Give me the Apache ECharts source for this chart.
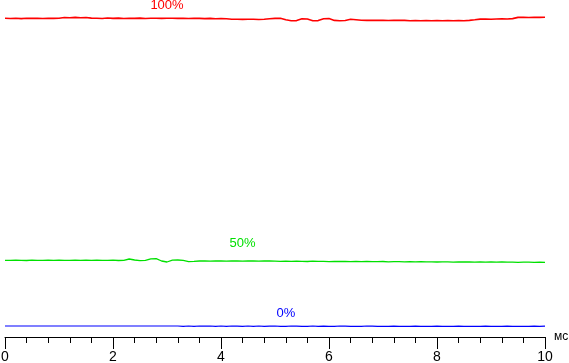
<!DOCTYPE html>
<html>
<head>
<meta charset="utf-8">
<script src="https://cdn.jsdelivr.net/npm/echarts@6/dist/echarts.min.js"></script>
<style>
html,body{margin:0;padding:0;background:#fff;}
#chart{width:569px;height:363px;}
</style>
</head>
<body>
<div id="chart"></div>
<script>
// time axis in ms, one sample every 0.1 ms
var timeMs = [];
for (var k = 0; k <= 100; k++) { timeMs.push(+(k / 10).toFixed(1)); }

var xTicks = ['0', '2', '4', '6', '8', '10'];
var seriesNames = ['100%', '50%', '0%'];
var seriesColors = ['#ff0000', '#00e000', '#0000ff'];
var labelTimes = [3.0, 4.4, 5.2];

// brightness levels (arbitrary units)
var red = [
  318.7, 318.5, 318.7, 318.4, 318.7, 318.6, 318.7, 318.5, 318.7, 318.6,
  318.8, 319.5, 319.3, 319.6, 319.2, 319.5, 318.9, 318.7, 318.5, 319.0,
  318.6, 318.9, 318.5, 318.8, 318.6, 318.9, 318.5, 318.7, 318.7, 318.6,
  318.7, 318.8, 318.6, 318.7, 318.5, 318.7, 318.6, 318.4, 318.6, 318.3,
  318.5, 318.2, 317.7, 317.8, 317.6, 317.8, 317.7, 317.5, 317.8, 318.2,
  318.6, 318.7, 317.2, 316.3, 316.4, 318.3, 318.0, 316.3, 316.4, 318.2,
  318.4, 316.6, 316.3, 316.5, 317.7, 317.2, 316.7, 316.6, 316.8, 316.6,
  316.7, 316.5, 316.7, 316.6, 316.6, 316.3, 316.4, 316.3, 316.5, 316.3,
  316.4, 316.3, 316.5, 316.3, 316.4, 316.3, 316.6, 317.2, 317.9, 318.0,
  317.8, 318.0, 318.1, 318.0, 318.4, 319.6, 319.7, 319.5, 319.8, 319.6,
  319.7
];
var green = [
  76.7, 76.6, 76.8, 76.7, 76.5, 76.8, 76.7, 76.6, 76.9, 76.7,
  76.8, 76.6, 76.7, 76.9, 76.6, 76.8, 76.7, 76.9, 76.6, 76.7,
  76.8, 76.5, 76.7, 78.0, 77.0, 76.3, 76.6, 78.2, 78.3, 76.0,
  75.0, 76.8, 77.0, 76.6, 75.4, 75.6, 76.0, 76.2, 75.9, 76.1,
  76.0, 75.8, 76.1, 76.0, 75.9, 76.2, 76.0, 75.8, 76.0, 76.1,
  75.9, 75.7, 75.9, 75.6, 75.8, 75.7, 75.5, 75.8, 75.6, 75.7,
  75.4, 75.6, 75.5, 75.7, 75.4, 75.5, 75.3, 75.6, 75.4, 75.3,
  75.5, 75.2, 75.4, 75.3, 75.1, 75.3, 75.2, 75.4, 75.1, 75.2,
  75.0, 75.2, 75.1, 74.9, 75.1, 75.0, 75.2, 74.9, 75.0, 74.8,
  75.0, 74.9, 75.1, 74.8, 74.9, 74.7, 74.9, 74.8, 74.7, 74.8,
  74.7
];
var blue = [
  11.0, 11.0, 11.0, 11.0, 11.0, 11.0, 11.0, 11.0, 11.0, 11.0,
  11.0, 11.0, 11.0, 11.0, 11.0, 11.0, 11.0, 11.0, 11.0, 11.0,
  11.0, 11.0, 11.0, 11.0, 11.0, 11.0, 11.0, 11.0, 11.0, 11.0,
  11.0, 11.0, 11.0, 10.6, 11.0, 10.7, 11.0, 10.8, 11.0, 10.6,
  11.0, 10.7, 11.0, 10.8, 10.6, 11.0, 10.7, 11.0, 10.6, 10.8,
  11.0, 10.7, 10.6, 11.0, 10.8, 10.6, 10.7, 11.0, 10.6, 10.8,
  10.7, 10.6, 11.0, 10.8, 10.6, 10.7, 10.6, 11.0, 10.8, 10.6,
  10.7, 10.6, 10.8, 10.7, 10.6, 10.7, 10.8, 10.6, 10.7, 10.6,
  10.8, 10.6, 10.7, 10.6, 10.8, 10.7, 10.6, 10.7, 10.6, 10.8,
  10.6, 10.7, 10.6, 10.8, 10.7, 10.6, 10.7, 10.6, 10.8, 10.7,
  10.8
];

var levels = [red, green, blue];
var widths = [1.6, 1.3, 1.2];
var labelOffsets = [[0, -13], [0, -18], [0, -13]];

function pairs(vals) {
  return timeMs.map(function (t, i) { return [t, vals[i]]; });
}

var series = levels.map(function (vals, s) {
  var idx = Math.round(labelTimes[s] * 10);
  return {
    type: 'line',
    name: seriesNames[s],
    data: pairs(vals),
    symbol: 'none',
    lineStyle: { color: seriesColors[s], width: widths[s] },
    itemStyle: { color: seriesColors[s] },
    silent: true,
    markPoint: {
      symbol: 'circle',
      symbolSize: 0,
      silent: true,
      data: [{ coord: [timeMs[idx], vals[idx]] }],
      label: {
        show: true,
        position: 'inside',
        offset: labelOffsets[s],
        formatter: seriesNames[s],
        color: seriesColors[s],
        fontSize: 13,
        fontFamily: 'Arial, "Liberation Sans", sans-serif'
      }
    }
  };
});

var chart = echarts.init(document.getElementById('chart'), null, { renderer: 'canvas' });
chart.setOption({
  animation: false,
  backgroundColor: '#fff',
  grid: { left: 5, right: 24, top: 5, bottom: 26, containLabel: false, outerBoundsMode: 'none' },
  xAxis: {
    type: 'value',
    min: 0,
    max: 10,
    interval: 2,
    name: 'мс',
    nameLocation: 'end',
    nameGap: 9,
    nameTextStyle: {
      color: '#000', fontSize: 12, align: 'left', verticalAlign: 'middle',
      padding: [4, 0, 0, 0],
      fontFamily: 'Arial, "Liberation Sans", sans-serif'
    },
    axisLine: { show: true, onZero: false, lineStyle: { color: '#000', width: 1 } },
    axisTick: { show: true, length: 12, lineStyle: { color: '#000', width: 1 } },
    minorTick: { show: true, splitNumber: 5, length: 6, lineStyle: { color: '#000', width: 1 } },
    splitLine: { show: false },
    minorSplitLine: { show: false },
    axisLabel: {
      color: '#000', fontSize: 14, margin: 13,
      fontFamily: 'Arial, "Liberation Sans", sans-serif',
      formatter: function (v) { return xTicks[Math.round(v / 2)]; }
    }
  },
  yAxis: { type: 'value', min: 0, max: 332, show: false, splitLine: { show: false } },
  series: series
});
</script>
</body>
</html>
